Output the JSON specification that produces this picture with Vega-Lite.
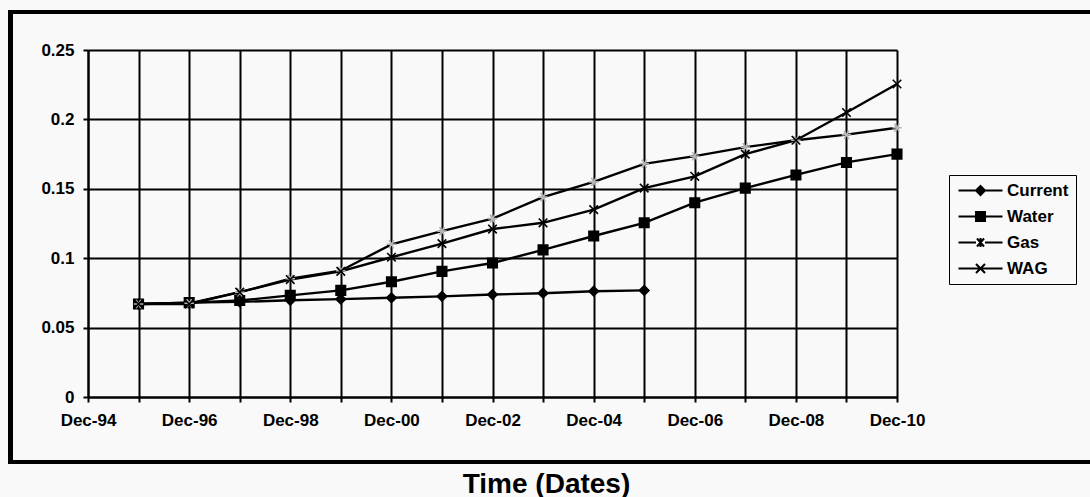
{
  "$schema": "https://vega.github.io/schema/vega-lite/v6.json",
  "width": 809,
  "height": 347,
  "autosize": {"type": "none"},
  "padding": {"left": 88, "top": 50, "right": 193, "bottom": 100},
  "background": "#f9f9f9",
  "config": {
    "view": {"stroke": null},
    "font": "Liberation Sans",
    "axis": {
      "grid": true,
      "labelFont": "Liberation Sans",
      "labelFontWeight": "bold",
      "labelFontSize": 17,
      "labelColor": "black",
      "gridColor": "black",
      "gridWidth": 2,
      "gridOpacity": 1,
      "domainColor": "black",
      "domainWidth": 2,
      "tickColor": "black",
      "tickWidth": 2,
      "tickSize": 5
    }
  },
  "data": {
    "values": [
      {"date": "1995-12-01", "series": "Current", "value": 0.067},
      {"date": "1996-12-01", "series": "Current", "value": 0.068},
      {"date": "1997-12-01", "series": "Current", "value": 0.0685},
      {"date": "1998-12-01", "series": "Current", "value": 0.0697},
      {"date": "1999-12-01", "series": "Current", "value": 0.0705},
      {"date": "2000-12-01", "series": "Current", "value": 0.0715},
      {"date": "2001-12-01", "series": "Current", "value": 0.0725},
      {"date": "2002-12-01", "series": "Current", "value": 0.0738},
      {"date": "2003-12-01", "series": "Current", "value": 0.0748},
      {"date": "2004-12-01", "series": "Current", "value": 0.0762},
      {"date": "2005-12-01", "series": "Current", "value": 0.0768},
      {"date": "1995-12-01", "series": "Water", "value": 0.067},
      {"date": "1996-12-01", "series": "Water", "value": 0.068},
      {"date": "1997-12-01", "series": "Water", "value": 0.0695},
      {"date": "1998-12-01", "series": "Water", "value": 0.0732},
      {"date": "1999-12-01", "series": "Water", "value": 0.0768},
      {"date": "2000-12-01", "series": "Water", "value": 0.083},
      {"date": "2001-12-01", "series": "Water", "value": 0.0905},
      {"date": "2002-12-01", "series": "Water", "value": 0.0965},
      {"date": "2003-12-01", "series": "Water", "value": 0.106},
      {"date": "2004-12-01", "series": "Water", "value": 0.116},
      {"date": "2005-12-01", "series": "Water", "value": 0.1255},
      {"date": "2006-12-01", "series": "Water", "value": 0.140},
      {"date": "2007-12-01", "series": "Water", "value": 0.1505},
      {"date": "2008-12-01", "series": "Water", "value": 0.160},
      {"date": "2009-12-01", "series": "Water", "value": 0.169},
      {"date": "2010-12-01", "series": "Water", "value": 0.175},
      {"date": "1995-12-01", "series": "Gas", "value": 0.067},
      {"date": "1996-12-01", "series": "Gas", "value": 0.0675},
      {"date": "1997-12-01", "series": "Gas", "value": 0.0755},
      {"date": "1998-12-01", "series": "Gas", "value": 0.0852},
      {"date": "1999-12-01", "series": "Gas", "value": 0.091},
      {"date": "2000-12-01", "series": "Gas", "value": 0.110},
      {"date": "2001-12-01", "series": "Gas", "value": 0.1195},
      {"date": "2002-12-01", "series": "Gas", "value": 0.1285},
      {"date": "2003-12-01", "series": "Gas", "value": 0.144},
      {"date": "2004-12-01", "series": "Gas", "value": 0.155},
      {"date": "2005-12-01", "series": "Gas", "value": 0.168},
      {"date": "2006-12-01", "series": "Gas", "value": 0.1735},
      {"date": "2007-12-01", "series": "Gas", "value": 0.180},
      {"date": "2008-12-01", "series": "Gas", "value": 0.185},
      {"date": "2009-12-01", "series": "Gas", "value": 0.189},
      {"date": "2010-12-01", "series": "Gas", "value": 0.194},
      {"date": "1995-12-01", "series": "WAG", "value": 0.067},
      {"date": "1996-12-01", "series": "WAG", "value": 0.067},
      {"date": "1997-12-01", "series": "WAG", "value": 0.0755},
      {"date": "1998-12-01", "series": "WAG", "value": 0.0846},
      {"date": "1999-12-01", "series": "WAG", "value": 0.0905},
      {"date": "2000-12-01", "series": "WAG", "value": 0.1007},
      {"date": "2001-12-01", "series": "WAG", "value": 0.1105},
      {"date": "2002-12-01", "series": "WAG", "value": 0.121},
      {"date": "2003-12-01", "series": "WAG", "value": 0.1255},
      {"date": "2004-12-01", "series": "WAG", "value": 0.135},
      {"date": "2005-12-01", "series": "WAG", "value": 0.1505},
      {"date": "2006-12-01", "series": "WAG", "value": 0.159},
      {"date": "2007-12-01", "series": "WAG", "value": 0.175},
      {"date": "2008-12-01", "series": "WAG", "value": 0.185},
      {"date": "2009-12-01", "series": "WAG", "value": 0.205},
      {"date": "2010-12-01", "series": "WAG", "value": 0.2255}
    ]
  },
  "layer": [
    {
      "mark": {"type": "rect", "clip": false, "fill": "transparent", "stroke": "black", "strokeWidth": 4},
      "encoding": {
        "x": {"datum": {"year": 1993, "month": 5, "date": 17, "utc": true}, "type": "temporal"},
        "x2": {"datum": {"year": 2015, "month": 6, "date": 1, "utc": true}},
        "y": {"datum": -0.0468, "type": "quantitative"},
        "y2": {"datum": 0.2774}
      }
    },
    {
      "mark": {"type": "line", "color": "black", "strokeWidth": 2.4},
      "encoding": {
        "x": {
          "field": "date",
          "type": "temporal",
          "scale": {
            "type": "utc",
            "domain": [
              {"year": 1994, "month": 12, "date": 1, "utc": true},
              {"year": 2010, "month": 12, "date": 1, "utc": true}
            ]
          },
          "axis": {
            "grid": true,
            "values": [
              {"year": 1994, "month": 12, "date": 1, "utc": true},
              {"year": 1995, "month": 12, "date": 1, "utc": true},
              {"year": 1996, "month": 12, "date": 1, "utc": true},
              {"year": 1997, "month": 12, "date": 1, "utc": true},
              {"year": 1998, "month": 12, "date": 1, "utc": true},
              {"year": 1999, "month": 12, "date": 1, "utc": true},
              {"year": 2000, "month": 12, "date": 1, "utc": true},
              {"year": 2001, "month": 12, "date": 1, "utc": true},
              {"year": 2002, "month": 12, "date": 1, "utc": true},
              {"year": 2003, "month": 12, "date": 1, "utc": true},
              {"year": 2004, "month": 12, "date": 1, "utc": true},
              {"year": 2005, "month": 12, "date": 1, "utc": true},
              {"year": 2006, "month": 12, "date": 1, "utc": true},
              {"year": 2007, "month": 12, "date": 1, "utc": true},
              {"year": 2008, "month": 12, "date": 1, "utc": true},
              {"year": 2009, "month": 12, "date": 1, "utc": true},
              {"year": 2010, "month": 12, "date": 1, "utc": true}
            ],
            "labelExpr": "utcyear(datum.value) % 2 == 0 ? utcFormat(datum.value, '%b-%y') : ''",
            "labelPadding": 10,
            "labelOverlap": false,
            "labelFlush": false,
            "title": "Time (Dates)",
            "titleFont": "Liberation Sans",
            "titleFontSize": 28,
            "titleFontWeight": "bold",
            "titleColor": "black",
            "titleX": 458,
            "titleY": 95,
            "titleAnchor": "middle",
            "titleAlign": "center",
            "titleBaseline": "alphabetic"
          }
        },
        "y": {
          "field": "value",
          "type": "quantitative",
          "scale": {"domain": [0, 0.25], "nice": false, "zero": true},
          "axis": {
            "grid": true,
            "values": [0, 0.05, 0.1, 0.15, 0.2, 0.25],
            "format": ".2~f",
            "labelPadding": 9,
            "title": null
          }
        },
        "detail": {"field": "series"}
      }
    },
    {
      "mark": {"type": "point", "filled": true, "opacity": 1, "strokeWidth": 1.6, "size": 90},
      "encoding": {
        "x": {"field": "date", "type": "temporal"},
        "y": {"field": "value", "type": "quantitative"},
        "shape": {
          "field": "series",
          "type": "nominal",
          "scale": {
            "domain": ["WAG", "Gas", "Water", "Current"],
            "range": [
              "M-0.9,-0.9L0.9,0.9M-0.9,0.9L0.9,-0.9",
              "M-1,0H1M-0.5,-0.87L0.5,0.87M-0.5,0.87L0.5,-0.87",
              "square",
              "diamond"
            ]
          },
          "legend": null
        },
        "fill": {
          "field": "series",
          "type": "nominal",
          "scale": {"domain": ["Current", "Water", "Gas", "WAG"], "range": ["black", "black", "transparent", "transparent"]},
          "legend": {
            "title": null,
            "orient": "none",
            "legendX": 861,
            "legendY": 125,
            "padding": 7,
            "strokeColor": "black",
            "labelFont": "Liberation Sans",
            "labelFontWeight": "bold",
            "labelFontSize": 17,
            "labelColor": "black",
            "labelOffset": 34,
            "rowPadding": 8,
            "symbolSize": 100,
            "symbolStrokeWidth": 2,
            "symbolStrokeColor": "black",
            "symbolType": {"expr": "datum.value === 'Current' ? 'M-1.2,0H7.6M3.2,-0.9L4.1,0L3.2,0.9L2.3,0Z' : datum.value === 'Water' ? 'M-1.2,0H7.6M2.3,-0.9H4.1V0.9H2.3Z' : datum.value === 'Gas' ? 'M-1.2,0H2.3M4.1,0H7.6M2.5,-0.8L3.9,0.8M2.5,0.8L3.9,-0.8M3.2,-0.9V0.9' : 'M-1.2,0H7.6M2.3,-0.9L4.1,0.9M2.3,0.9L4.1,-0.9'"},
            "encode": {
              "symbols": {
                "stroke": {"value": "black"},
                "strokeWidth": {"value": 2},
                "opacity": {"value": 1}
              }
            }
          }
        },
        "stroke": {
          "field": "series",
          "type": "nominal",
          "scale": {"domain": ["Gas", "WAG", "Current", "Water"], "range": ["#b5b5b5", "black", "black", "black"]},
          "legend": null
        }
      }
    }
  ]
}
